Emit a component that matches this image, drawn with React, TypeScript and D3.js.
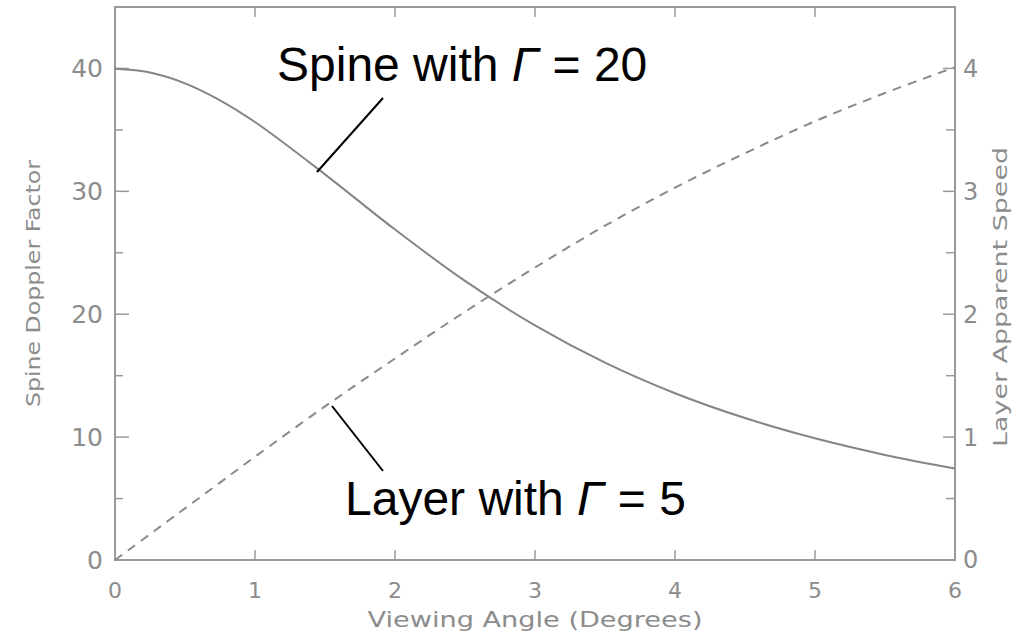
import React from 'react';
import * as d3 from 'd3';

// viewing angle in degrees
const angles = [0, 0.25, 0.5, 0.75, 1, 1.5, 2, 2.5, 3, 3.5, 4, 4.5, 5, 5.5, 6];
// spine doppler factor (Gamma = 20), left axis
const spineDoppler = [39.97, 39.67, 38.79, 37.41, 35.64, 31.38, 26.89, 22.71, 19.09, 16.06, 13.57, 11.55, 9.9, 8.55, 7.44];
// layer apparent speed (Gamma = 5), right axis
const layerSpeed = [0, 0.21, 0.42, 0.63, 0.84, 1.25, 1.64, 2.02, 2.38, 2.72, 3.03, 3.31, 3.57, 3.8, 4.01];

const xTicks = [0, 1, 2, 3, 4, 5, 6];
const leftTicks = [0, 10, 20, 30, 40];
const leftMinor = [5, 15, 25, 35];
const rightTicks = [0, 1, 2, 3, 4];
const rightMinor = [0.5, 1.5, 2.5, 3.5];

const W = 1021;
const H = 632;
const margin = { top: 7, right: 66, bottom: 72, left: 115 };
const axisColor = '#9a9a9a';
const textColor = '#8c8c8c';
const tickFont = '"DejaVu Sans", sans-serif';
const annoFont = '"Liberation Sans", Arial, Helvetica, sans-serif';

export default function App() {
  const x = d3.scaleLinear().domain([0, 6]).range([margin.left, W - margin.right]);
  const yL = d3.scaleLinear().domain([0, 45]).range([H - margin.bottom, margin.top]);
  const yR = d3.scaleLinear().domain([0, 4.5]).range([H - margin.bottom, margin.top]);

  const x0 = x.range()[0];
  const x1 = x.range()[1];
  const yb = yL.range()[0];
  const yt = yL.range()[1];

  const spineLine = d3.line<number>()
    .x((d, i) => x(angles[i]))
    .y(d => yL(d))
    .curve(d3.curveCatmullRom);
  const layerLine = d3.line<number>()
    .x((d, i) => x(angles[i]))
    .y(d => yR(d))
    .curve(d3.curveCatmullRom);

  return (
    <svg width={W} height={H} style={{ position: 'absolute', left: 0, top: 0, background: '#fff' }}>
      {/* frame */}
      <rect x={x0} y={yt} width={x1 - x0} height={yb - yt} fill="none" stroke={axisColor} strokeWidth={2} />

      {/* x ticks, bottom and top */}
      {xTicks.map(t => (
        <g key={'x' + t}>
          <line x1={x(t)} x2={x(t)} y1={yb} y2={yb - 10} stroke={axisColor} strokeWidth={1.5} />
          <line x1={x(t)} x2={x(t)} y1={yt} y2={yt + 10} stroke={axisColor} strokeWidth={1.5} />
          <text x={x(t)} y={598} textAnchor="middle" fontFamily={tickFont} fontSize={22} fill={textColor}>{t}</text>
        </g>
      ))}

      {/* left axis */}
      {leftTicks.map(t => (
        <g key={'l' + t}>
          <line x1={x0} x2={x0 + 14} y1={yL(t)} y2={yL(t)} stroke={axisColor} strokeWidth={1.5} />
          <text x={103} y={yL(t)} dy="0.35em" textAnchor="end" fontFamily={tickFont} fontSize={25} fill={textColor}>{t}</text>
        </g>
      ))}
      {leftMinor.map(t => (
        <line key={'lm' + t} x1={x0} x2={x0 + 8} y1={yL(t)} y2={yL(t)} stroke={axisColor} strokeWidth={1.5} />
      ))}

      {/* right axis */}
      {rightTicks.map(t => (
        <g key={'r' + t}>
          <line x1={x1} x2={x1 - 12} y1={yR(t)} y2={yR(t)} stroke={axisColor} strokeWidth={1.5} />
          <text x={963} y={yR(t)} dy="0.35em" textAnchor="start" fontFamily={tickFont} fontSize={24} fill={textColor}>{t}</text>
        </g>
      ))}
      {rightMinor.map(t => (
        <line key={'rm' + t} x1={x1} x2={x1 - 9} y1={yR(t)} y2={yR(t)} stroke={axisColor} strokeWidth={1.5} />
      ))}

      {/* axis titles */}
      <text x={(x0 + x1) / 2} y={627} textAnchor="middle" fontFamily={tickFont} fontSize={21}
        fill={textColor} textLength={335} lengthAdjust="spacingAndGlyphs">Viewing Angle (Degrees)</text>
      <text transform={`translate(40,${(yt + yb) / 2}) rotate(-90)`} textAnchor="middle" fontFamily={tickFont}
        fontSize={20} fill={textColor} textLength={247} lengthAdjust="spacingAndGlyphs">Spine Doppler Factor</text>
      <text transform={`translate(1007,297) rotate(-90)`} textAnchor="middle" fontFamily={tickFont}
        fontSize={20} fill={textColor} textLength={300} lengthAdjust="spacingAndGlyphs">Layer Apparent Speed</text>

      {/* curves */}
      <path d={spineLine(spineDoppler) || ''} fill="none" stroke="#858585" strokeWidth={2} />
      <path d={layerLine(layerSpeed) || ''} fill="none" stroke="#8a8a8a" strokeWidth={2} strokeDasharray="9,7" />

      {/* annotations */}
      <line x1={383} y1={98} x2={317} y2={172} stroke="#000" strokeWidth={2} />
      <text x={277} y={81} fontFamily={annoFont} fontSize={48} fill="#000">
        Spine with <tspan fontStyle="italic">Γ</tspan> = 20
      </text>
      <line x1={332} y1={406} x2={383} y2={471} stroke="#000" strokeWidth={2} />
      <text x={345} y={515} fontFamily={annoFont} fontSize={48} fill="#000">
        Layer with <tspan fontStyle="italic">Γ</tspan> = 5
      </text>
    </svg>
  );
}
